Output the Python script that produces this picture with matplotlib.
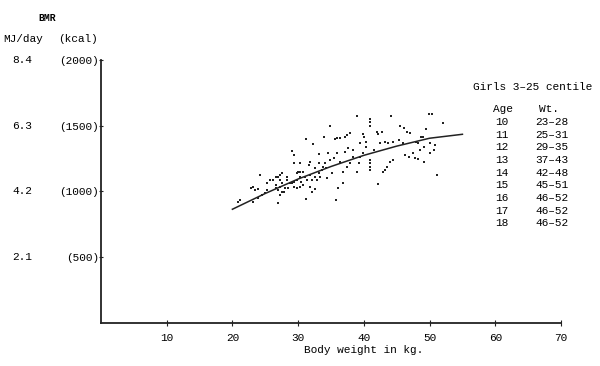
import matplotlib
matplotlib.use("Agg")
import matplotlib.pyplot as plt
from matplotlib.transforms import blended_transform_factory

plt.rcParams['font.family'] = ['Liberation Mono', 'DejaVu Sans Mono']

# scatter of individual girls: body weight (kg) vs BMR (kcal)
weight = [38.9, 41.0, 41.0, 41.0, 44.1, 49.9, 50.4, 52.0, 34.9, 45.5,
          46.1, 46.5, 47.0, 49.4, 42.0, 42.2, 42.7, 39.8, 40.0, 37.5,
          37.9, 37.1, 36.4, 35.9, 35.6, 31.2, 34.0, 32.3, 29.0, 29.4,
          33.1, 34.6, 35.9, 37.6, 37.2, 38.4, 39.4, 40.3, 40.4, 41.5,
          42.5, 43.2, 43.7, 44.5, 45.3, 46.0, 48.0, 48.3, 48.7, 49.0,
          50.1, 50.8, 49.2, 48.6, 47.5, 46.3, 46.8, 47.8, 48.3, 49.2,
          50.1, 50.6, 44.5, 44.0, 43.2, 43.5, 42.9, 40.9, 40.9, 40.9,
          40.9, 39.2, 38.9, 37.9, 37.4, 36.9, 36.4, 35.4, 34.9, 34.1,
          33.8, 34.2, 33.6, 32.6, 33.1, 33.3, 34.4, 32.6, 31.8, 30.8,
          30.0, 29.8, 30.3, 31.1, 31.3, 30.5, 29.8, 29.3, 28.8, 28.3,
          27.5, 27.3, 27.0, 26.7, 27.3, 27.5, 27.3, 27.0, 27.5, 27.3,
          27.8, 28.0, 26.2, 25.7, 25.2, 24.2, 23.2, 22.9, 23.4, 23.9,
          24.5, 23.9, 23.2, 21.2, 20.9, 27.0, 28.5, 29.0, 29.3, 30.3,
          30.8, 31.8, 32.6, 32.1, 31.2, 35.8, 36.1, 36.9, 42.2, 51.2,
          29.3, 30.3, 31.8, 33.1, 35.1, 36.4, 38.4, 39.4, 39.9, 30.3,
          31.6, 32.8, 32.1, 28.3, 29.8, 26.7, 25.2, 25.0, 26.7]
bmr = [1577, 1551, 1526, 1501, 1574, 1587, 1587, 1518, 1501, 1498,
       1480, 1455, 1442, 1475, 1450, 1437, 1455, 1435, 1417, 1430,
       1447, 1417, 1409, 1409, 1397, 1399, 1412, 1359, 1311, 1278,
       1285, 1290, 1290, 1328, 1303, 1316, 1366, 1379, 1341, 1316,
       1371, 1379, 1371, 1379, 1392, 1366, 1379, 1366, 1417, 1417,
       1366, 1354, 1341, 1316, 1290, 1278, 1265, 1252, 1245, 1222,
       1290, 1316, 1240, 1227, 1163, 1189, 1151, 1240, 1214, 1189,
       1163, 1214, 1151, 1214, 1189, 1151, 1214, 1252, 1240, 1214,
       1189, 1176, 1163, 1176, 1138, 1113, 1100, 1113, 1125, 1151,
       1151, 1138, 1113, 1113, 1087, 1075, 1087, 1075, 1062, 1087,
       1138, 1125, 1113, 1108, 1087, 1062, 1037, 1011, 999, 973,
       999, 1024, 1087, 1087, 1062, 1125, 1037, 1024, 1011, 1016,
       973, 948, 923, 935, 923, 910, 1024, 1062, 1037, 1037,
       1049, 1037, 1016, 999, 940, 935, 1024, 1062, 1057, 1125,
       1214, 1214, 1227, 1214, 1138, 1227, 1265, 1265, 1290, 1151,
       1201, 1087, 1087, 1113, 1024, 1049, 1011, 986, 1024]

# fitted curve
curve_wt = [20, 25, 30, 35, 40, 45, 50, 55]
curve_bmr = [865, 985, 1095, 1190, 1275, 1345, 1405, 1435]

x_ticks = [10, 20, 30, 40, 50, 60, 70]
y_ticks = [500, 1000, 1500, 2000]
y_labels = ['(500)', '(1000)', '(1500)', '(2000)']
mj_labels = ['2.1', '4.2', '6.3', '8.4']

ages = ['10', '11', '12', '13', '14', '15', '16', '17', '18']
wt_ranges = ['23–28', '25–31', '29–35', '37–43', '42–48',
             '45–51', '46–52', '46–52', '46–52']

fig = plt.figure(figsize=(6, 3.66), dpi=100)
ax = fig.add_axes([0.1683, 0.1175, 0.7667, 0.7186])

ax.plot(weight, bmr, 's', color='#222222', ms=2.0, mew=0)
ax.plot(curve_wt, curve_bmr, '-', color='#222222', lw=1.1)

ax.set_xlim(0, 70)
ax.set_ylim(0, 2000)
ax.spines['top'].set_visible(False)
ax.spines['right'].set_visible(False)
for s in ['left', 'bottom']:
    ax.spines[s].set_linewidth(1.3)
    ax.spines[s].set_color('#222222')

ax.set_xticks(x_ticks)
ax.set_xticklabels([str(t) for t in x_ticks])
ax.set_yticks(y_ticks)
ax.set_yticklabels(y_labels)
ax.tick_params(axis='x', direction='inout', length=4, pad=5, labelsize=8, color='#222222')
ax.tick_params(axis='y', direction='inout', length=3, pad=0, labelsize=8, color='#222222')

ax.set_xlabel('Body weight in kg.', fontsize=8)
ax.xaxis.set_label_coords(0.57, -0.085)

# MJ/day labels on the far left
tr = blended_transform_factory(fig.transFigure, ax.transData)
for yv, lab in zip(y_ticks, mj_labels):
    fig.text(0.037, yv, lab, transform=tr, ha='center', va='center', fontsize=8)

fig.text(0.078, 0.951, 'BMR', ha='center', va='center', fontsize=7, fontweight='bold')
fig.text(0.038, 0.893, 'MJ/day', ha='center', va='center', fontsize=8)
fig.text(0.13, 0.893, '(kcal)', ha='center', va='center', fontsize=8)

# legend table
fig.text(0.788, 0.762, 'Girls 3–25 centile', ha='left', va='center', fontsize=8)
fig.text(0.822, 1 - 109 / 366, 'Age', ha='left', va='center', fontsize=8)
fig.text(0.898, 1 - 109 / 366, 'Wt.', ha='left', va='center', fontsize=8)
for i, (a, w) in enumerate(zip(ages, wt_ranges)):
    yy = 1 - (122.3 + i * 12.6) / 366
    fig.text(0.826, yy, a, ha='left', va='center', fontsize=8)
    fig.text(0.892, yy, w, ha='left', va='center', fontsize=8)

fig.savefig('out.png', dpi=100)
